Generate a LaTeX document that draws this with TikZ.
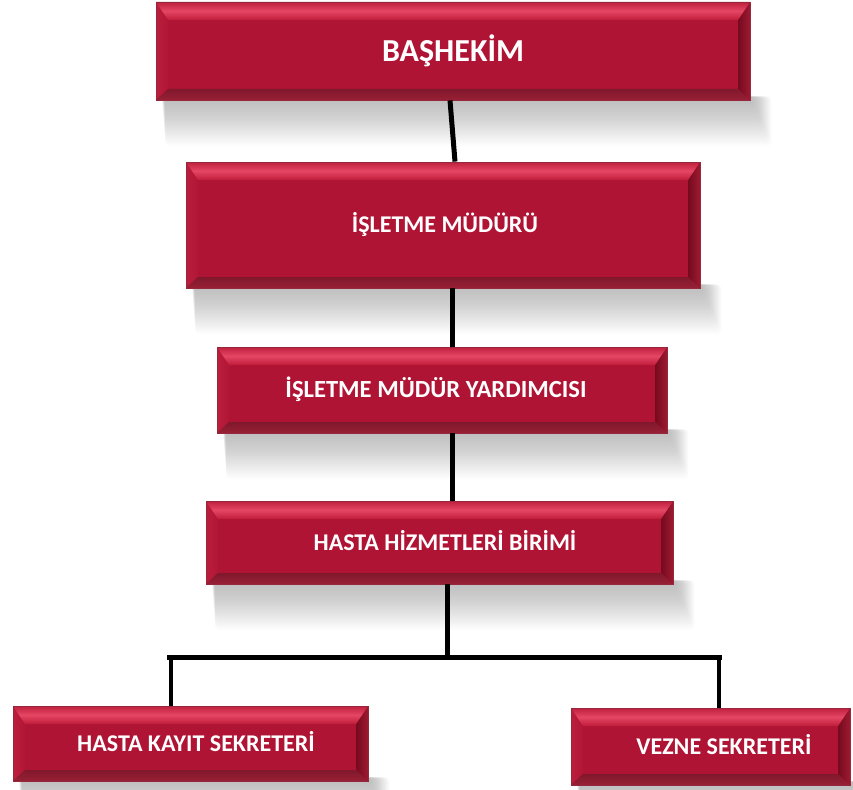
\documentclass[tikz,border=0pt]{standalone}
\usepackage{fontspec}
\setmainfont{Carlito}
\usetikzlibrary{backgrounds,calc}
\definecolor{face}{RGB}{175,20,52}
\definecolor{bevedge}{RGB}{150,40,62}
\definecolor{topA}{RGB}{190,32,62}
\definecolor{topB}{RGB}{228,70,100}
\definecolor{topC}{RGB}{192,28,58}
\definecolor{leftA}{RGB}{188,30,60}
\definecolor{leftB}{RGB}{176,22,54}
\definecolor{rightA}{RGB}{118,10,30}
\definecolor{rightB}{RGB}{158,26,50}
\definecolor{botA}{RGB}{128,24,44}
\definecolor{botB}{RGB}{152,32,54}
\tikzset{
  bev/.style={rectangle, inner sep=0pt, text=white,
    font=\bfseries\fontsize{24}{28}\selectfont, text height=15.5pt, text depth=0pt,
    fill=face, draw=bevedge, line width=0.8pt,
    path picture={
      \path let \p1=(path picture bounding box.south west),
                \p2=(path picture bounding box.north east) in
        (\x1,\y2) coordinate (tl) (\x2,\y2) coordinate (tr)
        (\x1,\y1) coordinate (bl) (\x2,\y1) coordinate (br)
        (\x1+12pt,\y2-18pt) coordinate (itl) (\x2-12pt,\y2-18pt) coordinate (itr)
        (\x1+12pt,\y1+11pt) coordinate (ibl) (\x2-12pt,\y1+11pt) coordinate (ibr);
      \shade[left color=leftA, right color=leftB] (tl)--(itl)--(ibl)--(bl)--cycle;
      \shade[left color=rightA, right color=rightB] (tr)--(itr)--(ibr)--(br)--cycle;
      \shade[top color=botA, bottom color=botB] (bl)--(ibl)--(ibr)--(br)--cycle;
      \shade[top color=topA, bottom color=topC, middle color=topB] (tl)--(tr)--(itr)--(itl)--cycle;
    }},
  conn/.style={draw=black, line width=5pt},
  drop/.style={draw=black, line width=4pt},
  shad/.style={fill=black, opacity=0.011}
}
\begin{document}
\begin{tikzpicture}[x=1pt,y=-1pt]
\useasboundingbox (0,0) rectangle (853,789);

\node[bev, minimum width=594pt, minimum height=98pt,
      font=\bfseries\fontsize{32}{36}\selectfont, text height=20.6pt] (b1) at (453,51) {BAŞHEKİM};
\node[bev, minimum width=514pt, minimum height=126pt] (b2) at (443,225) {\hspace*{4pt}İŞLETME MÜDÜRÜ};
\node[bev, minimum width=450pt, minimum height=86pt,
      font=\bfseries\fontsize{24.6}{28}\selectfont] (b3) at (442,390) {\hspace*{-12pt}İŞLETME MÜDÜR YARDIMCISI};
\node[bev, minimum width=467pt, minimum height=83pt] (b4) at (439.5,542.5) {\hspace*{11pt}HASTA HİZMETLERİ BİRİMİ};
\node[bev, minimum width=355pt, minimum height=75pt] (b5) at (190.5,743.5) {\hspace*{11pt}HASTA KAYIT SEKRETERİ};
\node[bev, minimum width=279pt, minimum height=77pt] (b6) at (710.5,746.5) {\hspace*{27pt}VEZNE SEKRETERİ};

\begin{scope}[on background layer]
  \foreach \n in {b1,b2,b3,b4,b5,b6}{
    \foreach \k in {1,...,24}{
      \fill[shad, rounded corners=4pt] ([xshift={(6+0.15*\k)*1pt}, yshift=4pt]\n.south west)
        rectangle ([xshift={(2+0.8*\k)*1pt}, yshift={-1.9*\k*1pt}]\n.south east);
    }
  }
\end{scope}

\draw[conn] ([xshift=-3pt]b1.south) -- ([xshift=12pt]b2.north);
\draw[conn] ([xshift=9pt]b2.south) -- ([xshift=9pt]b2.south |- b3.north);
\draw[conn] ([xshift=10pt]b3.south) -- ([xshift=10pt]b3.south |- b4.north);
\coordinate (bus) at (447,657);
\draw[conn] ([xshift=7.5pt]b4.south) -- (bus);
\draw[conn] ([xshift=-23.5pt]b5.north |- bus) -- ([xshift=11.5pt]b6.north |- bus);
\draw[drop] ([xshift=-19.5pt]b5.north) -- ([xshift=-19.5pt]b5.north |- bus);
\draw[drop] ([xshift=8.5pt]b6.north) -- ([xshift=8.5pt]b6.north |- bus);
\end{tikzpicture}
\end{document}
